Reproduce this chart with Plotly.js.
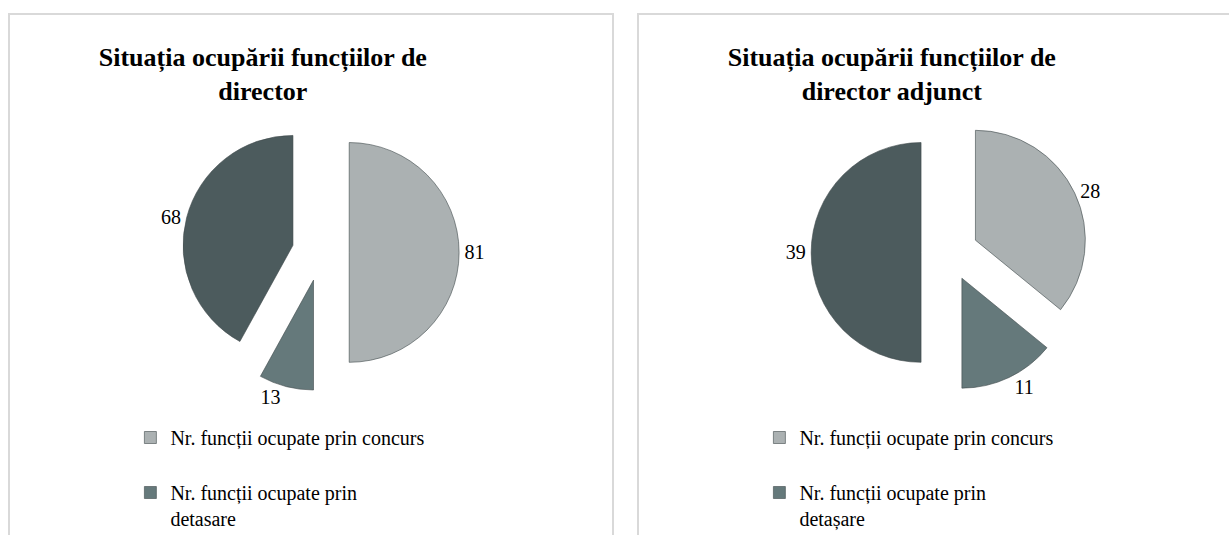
<!DOCTYPE html>
<html>
<head>
<meta charset="utf-8">
<script src="https://cdn.plot.ly/plotly-3.0.1.min.js"></script>
<style>
	html, body { margin: 0; padding: 0; background: #ffffff; overflow: hidden; width: 1229px; height: 535px; }
	.box { position: absolute; top: 13px; width: 602px; height: 660px; border: 2px solid #d9d9d9; }
	#boxLeft { left: 8px; }
	#boxRight { left: 637px; }
	.plot { width: 602px; height: 660px; }
</style>
</head>
<body>
<div class="box" id="boxLeft"><div class="plot" id="plotDirector"></div></div>
<div class="box" id="boxRight"><div class="plot" id="plotAdjunct"></div></div>
<script>

// legend labels (third entry is cut off at the bottom of the picture)
const directorLabels = [
	'Nr. funcții ocupate prin concurs',
	'Nr. funcții ocupate prin<br>detasare',
	'Nr. funcții vacante'
];
const adjunctLabels = [
	'Nr. funcții ocupate prin concurs',
	'Nr. funcții ocupate prin<br>detașare',
	'Nr. funcții vacante'
];

const directorValues = [ 81, 13, 68 ];
const adjunctValues = [ 28, 11, 39 ];

const sliceColors = [ '#abb1b2', '#65797b', '#4c5b5d' ];

/**
 * Draws one exploded pie with its title and legend
 *
 * @param { String } container id of the div
 * @param { String } title chart title
 * @param { Array } labels slice labels
 * @param { Array } values slice values
 */
function createPie( container, title, labels, values ) {

	// extra empty line gives the wide gap between legend entries
	const legendLabels = labels.map( l => l + '<br> ' );

	const data = [
		{
			type: 'pie',
			labels: legendLabels,
			values: values,
			sort: false,
			direction: 'clockwise',
			rotation: 0,
			pull: [ 0.26, 0.26, 0.26 ],
			marker: { colors: sliceColors, line: { color: '#3f4a4b', width: 0.6 } },
			textinfo: 'value',
			textposition: 'outside',
			textfont: { family: 'Liberation Serif, serif', size: 20, color: '#000000' },
			hoverinfo: 'label+value',
			domain: { x: [ 0.286, 0.746 ], y: [ 0.4302, 0.8503 ] }
		}
	];

	const layout = {
		width: 602,
		height: 660,
		margin: { l: 0, r: 0, t: 0, b: 0 },
		paper_bgcolor: '#ffffff',
		title: {
			text: title,
			x: 0.42,
			xanchor: 'center',
			y: 1 - 51 / 660,
			yanchor: 'top',
			font: { family: 'Liberation Serif, serif', size: 26, color: '#000000', weight: 'bold' }
		},
		showlegend: true,
		legend: {
			x: 0.2,
			xanchor: 'left',
			y: 1 - 403 / 660,
			yanchor: 'top',
			valign: 'top',
			font: { family: 'Liberation Serif, serif', size: 20, color: '#000000' }
		}
	};

	Plotly.newPlot( container, data, layout, { displayModeBar: false } );

}

createPie( 'plotDirector', '<b>Situația ocupării funcțiilor de<br>director</b>', directorLabels, directorValues );
createPie( 'plotAdjunct', '<b>Situația ocupării funcțiilor de<br>director adjunct</b>', adjunctLabels, adjunctValues );

</script>
</body>
</html>
